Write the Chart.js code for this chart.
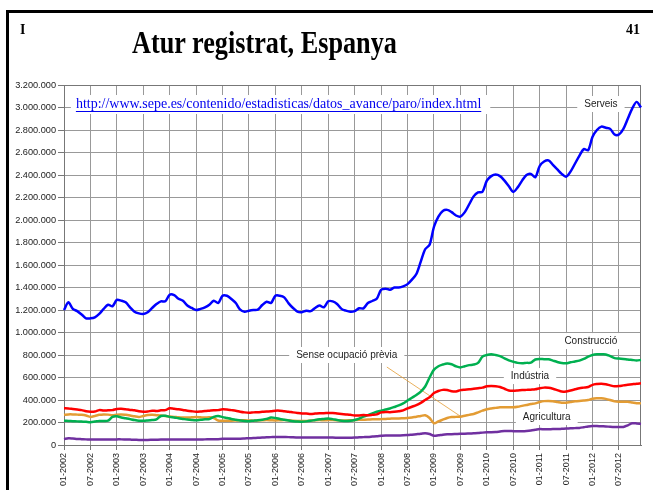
<!DOCTYPE html>
<html>
<head>
<meta charset="utf-8">
<script src="https://cdn.jsdelivr.net/npm/chart.js@4/dist/chart.umd.min.js"></script>
<style>
  html, body { margin: 0; padding: 0; background: #fff; }
  body { width: 653px; height: 490px; position: relative; overflow: hidden; }
  #marc { position: absolute; left: 6px; top: 10px; width: 700px; height: 520px; border-top: 3px solid #000; border-left: 3px solid #000; }
  #grafic { position: absolute; left: 0; top: 0; }
  .txt { position: absolute; font-family: 'Liberation Serif', serif; font-weight: bold; color: #000; white-space: nowrap; }
  #titol { left: 132px; top: 25px; font-size: 31px; transform: scaleX(0.846); transform-origin: 0 0; }
  #pag { left: 20px; top: 22px; font-size: 14px; }
  #num { left: 626px; top: 22px; font-size: 14px; }
</style>
</head>
<body>
<div id="marc"></div>
<canvas id="grafic" width="653" height="490"></canvas>
<div class="txt" id="pag">I</div>
<div class="txt" id="titol">Atur registrat, Espanya</div>
<div class="txt" id="num">41</div>
<script>
// Atur registrat per sectors (milers de persones), mensual 01-2002 .. 12-2012
const anys = [2002, 2003, 2004, 2005, 2006, 2007, 2008, 2009, 2010, 2011, 2012];
const mesos = ['01', '02', '03', '04', '05', '06', '07', '08', '09', '10', '11', '12'];

const serveis = [
  1200, 1268, 1210, 1190, 1160, 1126, 1126, 1135, 1165, 1210, 1247, 1233,
  1290, 1283, 1268, 1224, 1185, 1170, 1165, 1180, 1218, 1253, 1277, 1277,
  1336, 1333, 1300, 1283, 1240, 1218, 1200, 1210, 1224, 1247, 1283, 1262,
  1327, 1327, 1298, 1262, 1203, 1185, 1194, 1200, 1203, 1244, 1274, 1262,
  1327, 1327, 1312, 1259, 1218, 1185, 1180, 1194, 1190, 1218, 1240, 1224,
  1277, 1277, 1253, 1210, 1194, 1185, 1190, 1215, 1215, 1262, 1280, 1300,
  1380, 1390, 1380, 1400, 1400, 1410, 1430, 1470, 1520, 1630, 1740, 1780,
  1940, 2030, 2080, 2090, 2070, 2040, 2030, 2070, 2140, 2210, 2245, 2250,
  2350, 2390, 2405, 2390, 2350, 2300, 2250, 2290, 2350, 2400, 2410, 2380,
  2480, 2520, 2530, 2490, 2450, 2410, 2385, 2430, 2500, 2570, 2630, 2620,
  2740, 2800, 2830, 2820, 2810, 2760, 2760, 2810, 2900, 2990, 3050, 3000
];
const construccio = [
  216, 214, 212, 210, 208, 206, 203, 208, 214, 213, 216, 250,
  255, 245, 238, 230, 222, 216, 215, 218, 222, 228, 258, 260,
  250, 245, 238, 232, 226, 222, 220, 224, 228, 230, 250, 258,
  248, 240, 232, 225, 218, 213, 212, 216, 220, 225, 232, 244,
  240, 232, 225, 218, 212, 208, 207, 210, 215, 222, 228, 232,
  236, 230, 222, 216, 213, 215, 222, 235, 252, 265, 280, 295,
  305, 315, 325, 338, 352, 370, 395, 420, 445, 475, 520, 600,
  670, 700, 715, 725, 718, 700, 690, 700, 710, 715, 730, 785,
  800, 806, 800, 790, 770, 752, 740, 730, 726, 730, 732, 760,
  765, 762, 762, 750, 738, 728, 726, 735, 742, 750, 765, 785,
  800, 806, 806, 805, 790, 772, 768, 765, 760, 756, 752, 756
];
const industria = [
  326, 325, 320, 315, 310, 300, 296, 298, 310, 306, 308, 310,
  320, 322, 318, 312, 308, 300, 296, 298, 305, 302, 308, 310,
  326, 322, 318, 312, 305, 300, 296, 298, 302, 305, 308, 310,
  317, 315, 310, 305, 296, 290, 287, 290, 292, 295, 298, 300,
  305, 305, 300, 296, 290, 285, 281, 280, 276, 279, 283, 282,
  285, 284, 280, 276, 272, 268, 262, 263, 266, 265, 268, 272,
  290, 294, 292, 295, 300, 308, 325, 340, 355, 375, 400, 425,
  462, 480, 490, 488, 478, 476, 488, 492, 495, 500, 505, 510,
  522, 525, 522, 515, 500, 485, 483, 485, 488, 490, 492, 495,
  505, 510, 508, 500, 488, 475, 476, 485, 495, 505, 510, 515,
  535, 542, 545, 540, 530, 522, 524, 530, 535, 540, 545, 548
];
const senseOcupacio = [
  268, 272, 272, 270, 268, 262, 250, 258, 268, 272, 270, 265,
  270, 272, 268, 262, 255, 249, 258, 266, 268, 265, 262, 258,
  253, 250, 246, 244, 244, 246, 248, 246, 244, 246, 240, 218,
  216, 215, 216, 218, 220, 220, 218, 216, 218, 220, 222, 220,
  218, 220, 222, 220, 216, 214, 213, 214, 218, 220, 222, 220,
  222, 222, 220, 218, 218, 220, 222, 224, 225, 226, 228, 228,
  230, 232, 234, 236, 236, 238, 240, 245, 252, 258, 265, 240,
  193, 210, 225, 240, 248, 250, 252, 260, 268, 276, 290, 305,
  318, 325, 330, 335, 336, 335, 335, 340, 348, 356, 364, 370,
  382, 390, 392, 388, 382, 376, 376, 382, 388, 392, 395, 400,
  412, 415, 415, 410, 400, 388, 384, 385, 384, 378, 372, 370
];
const agricultura = [
  52, 60, 58, 54, 52, 50, 50, 50, 50, 50, 50, 50,
  50, 50, 49, 48, 47, 45, 45, 45, 46, 47, 48, 48,
  48, 49, 49, 49, 48, 48, 48, 49, 50, 51, 52, 52,
  55, 55, 55, 55, 56, 58, 60, 62, 64, 66, 68, 70,
  72, 72, 71, 70, 68, 67, 66, 66, 66, 66, 66, 66,
  66, 66, 65, 64, 64, 65, 66, 68, 70, 72, 75, 78,
  82, 85, 84, 84, 85, 86, 88, 92, 96, 100, 105, 98,
  82, 86, 92, 95, 96, 98, 100, 100, 102, 104, 106, 110,
  113, 114, 116, 120, 124, 124, 123, 122, 122, 124, 128, 135,
  142, 140, 140, 142, 142, 144, 146, 148, 150, 152, 158, 165,
  169, 168, 166, 165, 162, 160, 160, 160, 175, 193, 192, 187
];

// etiquetes dins del gràfic: [text, mes (índex), valor (milers)]
const font = 'http://www.sepe.es/contenido/estadisticas/datos_avance/paro/index.html';
const etiquetes = [
  ['Serveis', 121.9, 3031],
  ['Construcció', 119.6, 924],
  ['Indústria', 105.8, 613],
  ['Sense ocupació prèvia', 64.2, 800],
  ['Agricultura', 109.6, 249]
];
const posFont = [2.7, 3031];
const linia = [[73.3, 693], [89.9, 258]];

const etiquetesMes = [];
anys.forEach(a => mesos.forEach(m => etiquetesMes.push(m + '-' + a)));

function ambPunts(v) {
  return String(Math.round(v * 1000)).replace(/\B(?=(\d{3})+(?!\d))/g, '.');
}

const anotacions = {
  id: 'anotacions',
  beforeDatasetsDraw(chart) {
    const ctx = chart.ctx;
    const x = chart.scales.x, y = chart.scales.y;
    const area = chart.chartArea;
    ctx.save();
    // marc del gràfic
    ctx.strokeStyle = '#777';
    ctx.lineWidth = 1;
    ctx.strokeRect(area.left + 0.5, area.top + 0.5, area.right - area.left - 1, area.bottom - area.top);

    // adreça de la font
    ctx.font = '14px "Liberation Serif"';
    ctx.textBaseline = 'middle';
    ctx.textAlign = 'left';
    const fx = x.getPixelForValue(posFont[0]);
    const fy = y.getPixelForValue(posFont[1]);
    const fw = ctx.measureText(font).width;
    ctx.fillStyle = '#fff';
    ctx.fillRect(fx - 5, fy - 9, fw + 14, 19);
    ctx.fillStyle = '#0000ee';
    ctx.fillText(font, fx, fy);
    ctx.strokeStyle = '#0000ee';
    ctx.beginPath();
    ctx.moveTo(fx, fy + 7.5);
    ctx.lineTo(fx + fw, fy + 7.5);
    ctx.stroke();

    // línia guia
    ctx.strokeStyle = '#e39c34';
    ctx.lineWidth = 0.8;
    ctx.beginPath();
    ctx.moveTo(x.getPixelForValue(linia[0][0]), y.getPixelForValue(linia[0][1]));
    ctx.lineTo(x.getPixelForValue(linia[1][0]), y.getPixelForValue(linia[1][1]));
    ctx.stroke();

    // rètols de sèries
    ctx.font = '10px "Liberation Sans"';
    ctx.textAlign = 'center';
    etiquetes.forEach(([t, i, v]) => {
      const px = x.getPixelForValue(i);
      const py = y.getPixelForValue(v);
      const w = ctx.measureText(t).width;
      ctx.fillStyle = '#fff';
      ctx.fillRect(px - w / 2 - 7, py - 8, w + 14, 16);
      ctx.fillStyle = '#222';
      ctx.fillText(t, px, py);
    });
    ctx.restore();
  }
};

function serie(nom, dades, color) {
  return {
    label: nom,
    data: dades,
    borderColor: color,
    backgroundColor: color,
    borderWidth: 2.5,
    pointRadius: 0,
    tension: 0.3,
    fill: false
  };
}

new Chart(document.getElementById('grafic'), {
  type: 'line',
  data: {
    labels: etiquetesMes,
    datasets: [
      serie('Serveis', serveis, '#0000ff'),
      serie('Indústria', industria, '#ff0000'),
      serie('Construcció', construccio, '#00b050'),
      serie('Sense ocupació prèvia', senseOcupacio, '#e39c34'),
      serie('Agricultura', agricultura, '#7030a0')
    ]
  },
  options: {
    responsive: false,
    animation: false,
    layout: { padding: { top: 85, right: 12, left: 0, bottom: 0 } },
    plugins: {
      legend: { display: false },
      tooltip: { enabled: false }
    },
    scales: {
      x: {
        offset: false,
        afterFit(scale) { scale.height = 45; },
        grid: { color: '#999', tickColor: '#777', tickLength: 5, drawOnChartArea: true },
        border: { color: '#777' },
        ticks: {
          autoSkip: false,
          minRotation: 90,
          maxRotation: 90,
          padding: 3,
          color: '#222',
          font: { family: 'Liberation Sans', size: 9 },
          callback(v, i) { return i % 6 === 0 ? etiquetesMes[i] : null; }
        }
      },
      y: {
        min: 0,
        max: 3200,
        afterFit(scale) { scale.width = 64; },
        grid: { color: '#999', tickColor: '#777', tickLength: 6 },
        border: { color: '#777' },
        ticks: {
          stepSize: 200,
          padding: 2,
          color: '#222',
          font: { family: 'Liberation Sans', size: 9.2 },
          callback: v => ambPunts(v)
        }
      }
    }
  },
  plugins: [anotacions]
});
</script>
</body>
</html>
